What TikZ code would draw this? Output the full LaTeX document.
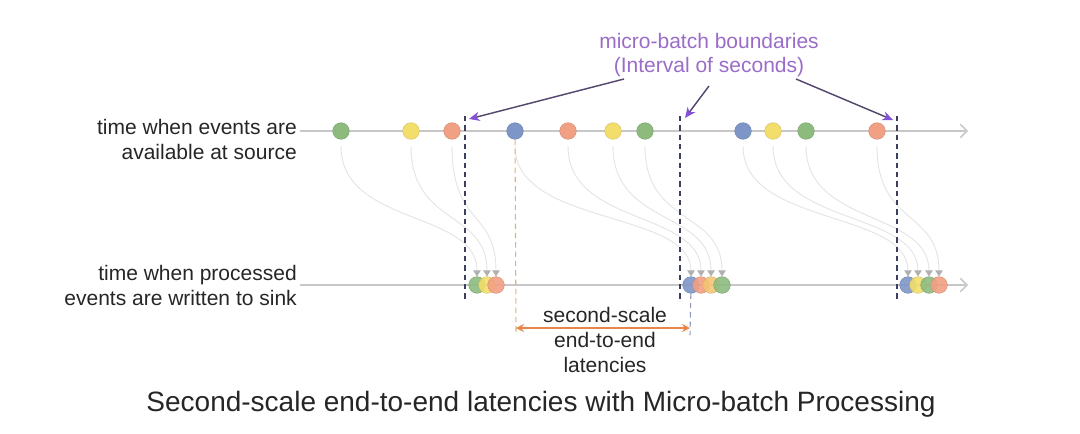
\documentclass[tikz,border=0pt]{standalone}
\usepackage{fontspec}
\setmainfont{Liberation Sans}
\usetikzlibrary{arrows.meta,backgrounds}
\definecolor{cgreen}{HTML}{8DBB7E}
\definecolor{cyellow}{HTML}{F3DE6C}
\definecolor{corange}{HTML}{F2A083}
\definecolor{cblue}{HTML}{7E96C7}
\definecolor{txt}{HTML}{262626}
\definecolor{mbpurple}{HTML}{9A6CC8}
\definecolor{ptrline}{HTML}{55486E}
\definecolor{ptrhead}{HTML}{8452D6}
\definecolor{navy}{HTML}{3A4060}
\definecolor{linegray}{HTML}{C8C8C8}
\definecolor{flowgray}{HTML}{E4E4E4}
\definecolor{tipgray}{HTML}{B0B0B0}
\definecolor{latorange}{HTML}{E8864A}
\definecolor{latdashL}{HTML}{E0B080}
\definecolor{latdashR}{HTML}{9098C0}
\begin{document}
\begin{tikzpicture}[x=0.75pt,y=-0.75pt,
  dot/.style={circle,minimum size=12.5pt,inner sep=0pt,fill=#1,draw=#1!85!black,line width=0.3pt},
  sidetext/.style={font=\fontsize{15.75}{18.75}\selectfont,text=txt,align=right,anchor=east,inner sep=0pt},
  flow/.style={draw=flowgray,line width=0.7pt,shorten <=5pt,-{Triangle[width=5.5pt,length=4.5pt,color=tipgray]}},
  boundary/.style={draw=navy,dash pattern=on 4pt off 3pt,line width=0.8pt},
  timeline/.style={draw=linegray,line width=1.1pt,-{Straight Barb[length=5pt,width=10pt]}},
  pointer/.style={draw=ptrline,line width=1.1pt,-{Stealth[length=8pt,width=7pt,color=ptrhead]}},
  latdash/.style={draw=#1,dash pattern=on 4pt off 3pt,line width=0.8pt},
  latarrow/.style={draw=latorange,line width=1.3pt,{Stealth[length=6pt,width=6pt]}-{Stealth[length=6pt,width=6pt]}}
]
\useasboundingbox (0,0) rectangle (1080,433);

% timelines
\coordinate (t0) at (300,131);
\coordinate (t1) at (968,131);
\coordinate (s0) at (300,285);
\coordinate (s1) at (968,285);

% top event dots
\node[dot=cgreen]  (a1) at (341,131) {};
\node[dot=cyellow] (a2) at (411,131) {};
\node[dot=corange] (a3) at (452,131) {};
\node[dot=cblue]   (b1) at (515,131) {};
\node[dot=corange] (b2) at (568,131) {};
\node[dot=cyellow] (b3) at (613,131) {};
\node[dot=cgreen]  (b4) at (645,131) {};
\node[dot=cblue]   (c1) at (743,131) {};
\node[dot=cyellow] (c2) at (773,131) {};
\node[dot=cgreen]  (c3) at (806,131) {};
\node[dot=corange] (c4) at (877,131) {};

% bottom (sink) dots
\node[dot=cgreen,fill opacity=0.9]  (a1s) at (477,285) {};
\node[dot=cyellow,fill opacity=0.9] (a2s) at (487,285) {};
\node[dot=corange,fill opacity=0.9] (a3s) at (496,285) {};
\node[dot=cblue,fill opacity=0.9]   (b1s) at (691,285) {};
\node[dot=corange,fill opacity=0.9] (b2s) at (701,285) {};
\node[dot=cyellow!60!corange,fill opacity=0.9] (b3s) at (711,285) {};
\node[dot=cgreen,fill opacity=0.9]  (b4s) at (722,285) {};
\node[dot=cblue,fill opacity=0.9]   (c1s) at (908,285) {};
\node[dot=cyellow,fill opacity=0.9] (c2s) at (918,285) {};
\node[dot=cgreen,fill opacity=0.9]  (c3s) at (929,285) {};
\node[dot=corange,fill opacity=0.9] (c4s) at (939,285) {};

\begin{pgfonlayer}{background}
  \draw[timeline] (t0) -- (t1);
  \draw[timeline] (s0) -- (s1);
  \foreach \e in {a1,a2,a3,b1,b2,b3,b4,c1,c2,c3,c4}{
    \draw[flow] (\e) .. controls +(0,95) and +(0,-75) .. (\e s);
  }
\end{pgfonlayer}

% micro-batch boundaries
\coordinate (m1t) at (465,116); \coordinate (m1b) at (465,300);
\coordinate (m2t) at (680,116); \coordinate (m2b) at (680,300);
\coordinate (m3t) at (897,116); \coordinate (m3b) at (897,300);
\draw[boundary] (m1t) -- (m1b);
\draw[boundary] (m2t) -- (m2b);
\draw[boundary] (m3t) -- (m3b);

% latency
\coordinate (latL) at (516,328);
\coordinate (latR) at (690,328);
\coordinate (latLb) at (516,333);
\coordinate (latRb) at (690,335);
\draw[latdash=latdashL] (b1) -- (latLb);
\draw[latdash=latdashR] (b1s) -- (latRb);
\draw[latarrow] (latL) -- (latR);
\node[font=\fontsize{15.75}{18.75}\selectfont,text=txt,align=center] (lat) at (605,340)
  {second-scale\\end-to-end\\latencies};

% micro-batch label and pointers
\node[font=\fontsize{15.75}{18}\selectfont,text=mbpurple,align=center] (mb) at (709,55)
  {micro-batch boundaries\\(Interval of seconds)};
\coordinate (p1) at (624,79);
\coordinate (p2) at (709,86);
\coordinate (p3) at (796,79);
\coordinate (q1) at (469,119);
\coordinate (q2) at (685,118);
\coordinate (q3) at (893,120);
\draw[pointer] (p1) -- (q1);
\draw[pointer] (p2) -- (q2);
\draw[pointer] (p3) -- (q3);

% side labels
\node[sidetext] (srcl) at (297,139) {time when events are\\available at source};
\node[sidetext] (snkl) at (297,285) {time when processed\\events are written to sink};

% caption
\node[font=\fontsize{21}{25}\selectfont,text=txt] (cap) at (541,404)
  {Second-scale end-to-end latencies with Micro-batch Processing};
\end{tikzpicture}
\end{document}
